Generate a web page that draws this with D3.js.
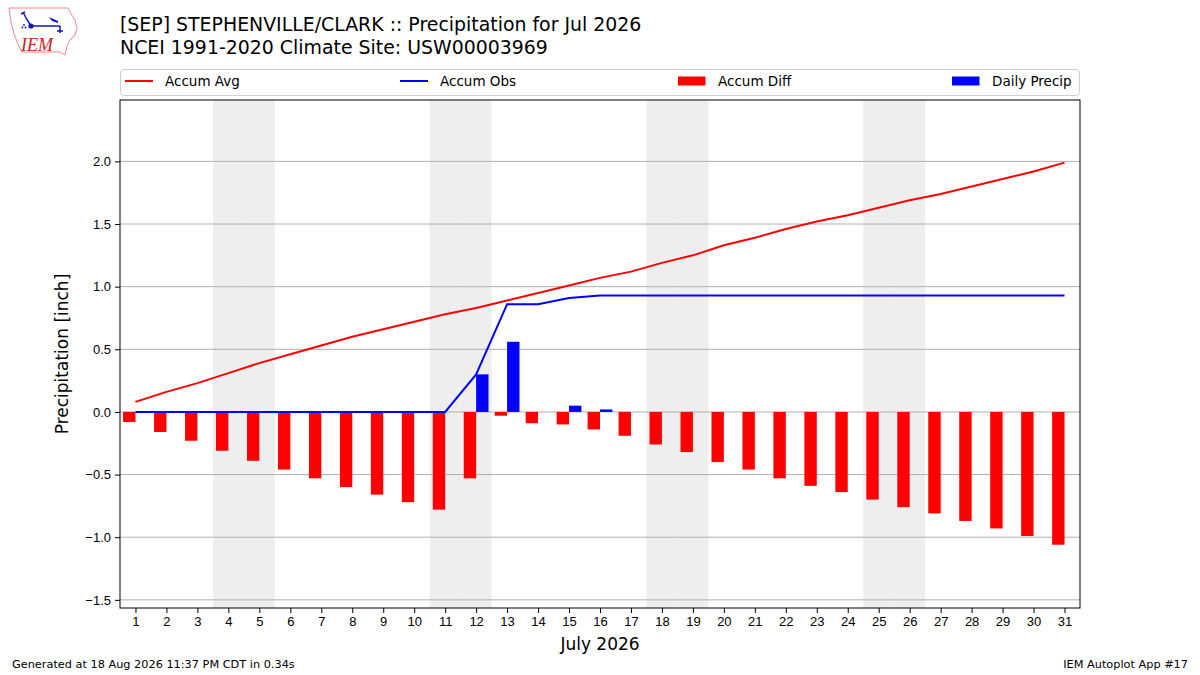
<!DOCTYPE html>
<html lang="en">
<head>
<meta charset="UTF-8">
<title>STEPHENVILLE/CLARK Precipitation Jul 2026</title>
<script src="https://d3js.org/d3.v7.min.js"></script>
<style>
  body { margin: 0; background: #fff; }
  svg { display: block; font-family: "DejaVu Sans", sans-serif; }
  .tick text { font-size: 13px; fill: #000; }
</style>
</head>
<body>
<svg id="chart" width="1200" height="675"></svg>
<script>
// Day of month, July 2026
const days = d3.range(1, 32);
// Accumulated climatology (inch)
const accumAvg = [0.08, 0.16, 0.23, 0.31, 0.39, 0.46, 0.53, 0.60, 0.66, 0.72,
                  0.78, 0.83, 0.89, 0.95, 1.01, 1.07, 1.12, 1.19, 1.25, 1.33,
                  1.39, 1.46, 1.52, 1.57, 1.63, 1.69, 1.74, 1.80, 1.86, 1.92, 1.99];
// Accumulated observed (inch)
const accumObs = [0, 0, 0, 0, 0, 0, 0, 0, 0, 0,
                  0, 0.30, 0.86, 0.86, 0.91, 0.93, 0.93, 0.93, 0.93, 0.93,
                  0.93, 0.93, 0.93, 0.93, 0.93, 0.93, 0.93, 0.93, 0.93, 0.93, 0.93];
// Accumulated departure (inch)
const accumDiff = [-0.08, -0.16, -0.23, -0.31, -0.39, -0.46, -0.53, -0.60, -0.66, -0.72,
                   -0.78, -0.53, -0.03, -0.09, -0.10, -0.14, -0.19, -0.26, -0.32, -0.40,
                   -0.46, -0.53, -0.59, -0.64, -0.70, -0.76, -0.81, -0.87, -0.93, -0.99, -1.06];
// Daily precipitation (inch)
const dailyPrecip = [0, 0, 0, 0, 0, 0, 0, 0, 0, 0,
                     0, 0.30, 0.56, 0, 0.05, 0.02, 0, 0, 0, 0,
                     0, 0, 0, 0, 0, 0, 0, 0, 0, 0, 0];
const yTicks = [-1.5, -1.0, -0.5, 0.0, 0.5, 1.0, 1.5, 2.0];

const svg = d3.select("#chart");
const plotL = 120, plotR = 1080, plotT = 100, plotB = 608;

const x = d3.scaleLinear().domain([0.5, 31.5]).range([plotL, plotR]);
const y = d3.scaleLinear().domain([-1.565, 2.49]).range([plotB, plotT]);
const barW = 0.4;

// weekend shading
const weekends = days.filter(d => [0, 6].includes(new Date(2026, 6, d).getDay()));
svg.append("g").selectAll("rect").data(weekends).join("rect")
  .attr("x", d => x(d - 0.5))
  .attr("width", d => x(d + 0.5) - x(d - 0.5))
  .attr("y", plotT).attr("height", plotB - plotT)
  .attr("fill", "#eeeeee");

// grid
svg.append("g").selectAll("line").data(yTicks).join("line")
  .attr("x1", plotL).attr("x2", plotR)
  .attr("y1", d => y(d)).attr("y2", d => y(d))
  .attr("stroke", "#b0b0b0").attr("stroke-width", 1);

// accum diff bars (left of the day)
svg.append("g").selectAll("rect").data(days).join("rect")
  .attr("x", d => x(d - barW))
  .attr("width", x(barW) - x(0))
  .attr("y", (d, i) => y(Math.max(0, accumDiff[i])))
  .attr("height", (d, i) => Math.abs(y(accumDiff[i]) - y(0)))
  .attr("fill", "#ff0000");

// daily precip bars (right of the day)
svg.append("g").selectAll("rect").data(days.filter((d, i) => dailyPrecip[i] > 0)).join("rect")
  .attr("x", d => x(d))
  .attr("width", x(barW) - x(0))
  .attr("y", d => y(dailyPrecip[d - 1]))
  .attr("height", d => y(0) - y(dailyPrecip[d - 1]))
  .attr("fill", "#0000ff");

const line = d3.line().x(d => x(d[0])).y(d => y(d[1]));
svg.append("path").datum(days.map((d, i) => [d, accumAvg[i]]))
  .attr("d", line).attr("fill", "none").attr("stroke", "#ff0000").attr("stroke-width", 2);
svg.append("path").datum(days.map((d, i) => [d, accumObs[i]]))
  .attr("d", line).attr("fill", "none").attr("stroke", "#0000ff").attr("stroke-width", 2);

// axes
const fmt = d => d3.format(".1f")(d).replace("-", "\u2212");
svg.append("g").attr("transform", `translate(${plotL},0)`)
  .call(d3.axisLeft(y).tickValues(yTicks).tickFormat(fmt).tickSize(5).tickPadding(4))
  .call(g => g.select(".domain").remove())
  .call(g => g.selectAll(".tick line").attr("stroke", "#000"));
svg.append("g").attr("transform", `translate(0,${plotB})`)
  .call(d3.axisBottom(x).tickValues(days).tickFormat(d3.format("d")).tickSize(5).tickPadding(4))
  .call(g => g.select(".domain").remove())
  .call(g => g.selectAll(".tick line").attr("stroke", "#000"));

svg.append("rect").attr("x", plotL).attr("y", plotT)
  .attr("width", plotR - plotL).attr("height", plotB - plotT)
  .attr("fill", "none").attr("stroke", "#000").attr("stroke-width", 1);

// axis labels
svg.append("text").attr("x", (plotL + plotR) / 2).attr("y", 650)
  .attr("text-anchor", "middle").attr("font-size", 17).text("July 2026");
svg.append("text").attr("transform", `translate(68,${(plotT + plotB) / 2}) rotate(-90)`)
  .attr("text-anchor", "middle").attr("font-size", 17).text("Precipitation [inch]");

// title
svg.append("text").attr("x", 120).attr("y", 31).attr("font-size", 18.9)
  .text("[SEP] STEPHENVILLE/CLARK :: Precipitation for Jul 2026");
svg.append("text").attr("x", 120).attr("y", 54).attr("font-size", 18.9)
  .text("NCEI 1991-2020 Climate Site: USW00003969");

// legend
const legend = svg.append("g");
legend.append("rect").attr("x", 120.5).attr("y", 69.5).attr("width", 959).attr("height", 26)
  .attr("rx", 3).attr("fill", "#fff").attr("stroke", "#d0d0d0");
const legendItems = [
  { label: "Accum Avg", kind: "line", color: "#ff0000", x0: 125 },
  { label: "Accum Obs", kind: "line", color: "#0000ff", x0: 400 },
  { label: "Accum Diff", kind: "patch", color: "#ff0000", x0: 678 },
  { label: "Daily Precip", kind: "patch", color: "#0000ff", x0: 952 }
];
legendItems.forEach(it => {
  if (it.kind === "line") {
    legend.append("line").attr("x1", it.x0).attr("x2", it.x0 + 28)
      .attr("y1", 81).attr("y2", 81).attr("stroke", it.color).attr("stroke-width", 2);
  } else {
    legend.append("rect").attr("x", it.x0).attr("y", 76.5).attr("width", 27.5).attr("height", 9)
      .attr("fill", it.color);
  }
  legend.append("text").attr("x", it.x0 + 40).attr("y", 86).attr("font-size", 13.5).text(it.label);
});

// footer
svg.append("text").attr("x", 12).attr("y", 668).attr("font-size", 11.3)
  .text("Generated at 18 Aug 2026 11:37 PM CDT in 0.34s");
svg.append("text").attr("x", 1188).attr("y", 668).attr("font-size", 11.3).attr("text-anchor", "end")
  .text("IEM Autoplot App #17");

// IEM logo (simplified)
const logo = svg.append("g");
logo.append("path")
  .attr("d", "M9,8 L68,8 L71,14 L75,20 L77,28 L75,35 L70,40 L67,46 L65,55 L60,52 L22,52 L18,44 L14,34 L11,22 Z")
  .attr("fill", "#fff").attr("stroke", "#e88").attr("stroke-width", 1);
logo.append("path").attr("d", "M31,26 L60,26 M60,26 L60,33 M57,31 L63,31 M23,12 L26,18 L31,26 M21,14 L25,12")
  .attr("stroke", "#1515c8").attr("stroke-width", 1.5).attr("fill", "none");
logo.append("path").attr("d", "M49,17 L58,21 L58,23 L52,21 Z").attr("fill", "#1515c8");
logo.append("circle").attr("cx", 31).attr("cy", 26).attr("r", 2.6).attr("fill", "#1515c8");
logo.append("circle").attr("cx", 24).attr("cy", 25).attr("r", 0.9).attr("fill", "#1515c8");
logo.append("circle").attr("cx", 22.5).attr("cy", 27.5).attr("r", 0.9).attr("fill", "#1515c8");
logo.append("circle").attr("cx", 25.5).attr("cy", 27.5).attr("r", 0.9).attr("fill", "#1515c8");
logo.append("text").attr("x", 21).attr("y", 51).attr("font-family", "Liberation Serif, serif")
  .attr("font-style", "italic").attr("font-size", 18).attr("fill", "#cc2222").text("IEM");
</script>
</body>
</html>
